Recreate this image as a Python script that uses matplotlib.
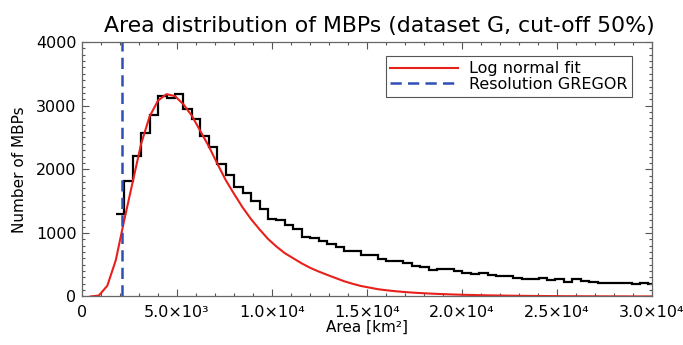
import numpy as np
import matplotlib
matplotlib.use('Agg')
import matplotlib.pyplot as plt
from matplotlib.ticker import MultipleLocator, FixedLocator

# histogram: bin edges [km^2] and counts
bin_width = 445
first_edge = 1780
hist_counts = [1297, 1816, 2209, 2566, 2849, 3148, 3126, 3179, 2948, 2786,
               2524, 2351, 2083, 1915, 1726, 1632, 1502, 1380, 1223, 1203,
               1119, 1066, 940, 925, 868, 825, 774, 720, 720, 652,
               652, 594, 563, 563, 522, 484, 469, 417, 432, 432,
               401, 365, 349, 365, 333, 322, 322, 296, 275, 275,
               296, 259, 275, 223, 275, 248, 233, 208, 217, 217,
               208, 192, 217, 201]

# log normal fit, sampled every bin width starting at 445 km^2
fit_values = [0, 15, 170, 570, 1200, 1800, 2400, 2830, 3080, 3180,
              3150, 3020, 2840, 2600, 2360, 2090, 1830, 1610, 1400, 1215,
              1055, 905, 785, 680, 600, 520, 450, 392, 340, 290,
              240, 200, 165, 140, 115, 98, 84, 72, 62, 54,
              47, 41, 36, 31, 27, 24, 21, 18, 16, 14,
              12, 10, 9, 8, 7, 6, 5, 4, 4, 3,
              3, 2, 2, 2, 1, 1, 1, 1]

resolution_gregor = 2100

xticks = [0, 5000, 10000, 15000, 20000, 25000, 30000]
xtick_labels = ['0', '5.0×10³', '1.0×10⁴', '1.5×10⁴', '2.0×10⁴', '2.5×10⁴', '3.0×10⁴']
yticks = [0, 1000, 2000, 3000, 4000]

edges = first_edge + bin_width * np.arange(len(hist_counts) + 1)
fit_x = bin_width * np.arange(1, len(fit_values) + 1)

fig = plt.figure(figsize=(6.83, 3.45), dpi=100)
ax = fig.add_axes([0.120, 0.1406, 0.8346, 0.7377])

ax.stairs(hist_counts, edges, baseline=None, color='black', linewidth=1.6)
ax.plot(fit_x, fit_values, color='#e8201c', linewidth=1.5, label='Log normal fit')
ax.axvline(resolution_gregor, color='#2e4fb5', linewidth=1.8, linestyle=(0, (4.5, 2.5)),
           label='Resolution GREGOR')

ax.set_xlim(0, 30000)
ax.set_ylim(0, 4000)

ax.xaxis.set_major_locator(FixedLocator(xticks))
ax.set_xticklabels(xtick_labels)
ax.xaxis.set_minor_locator(MultipleLocator(1000))
ax.yaxis.set_major_locator(FixedLocator(yticks))
ax.yaxis.set_minor_locator(MultipleLocator(100))

ax.tick_params(which='both', direction='in', top=True, right=True, colors='#555555',
               labelcolor='black', labelsize=11.5, width=0.8)
ax.tick_params(which='major', length=5, pad=6)
ax.tick_params(axis='y', which='major', pad=4)
ax.tick_params(which='minor', length=2.5)
for sp in ax.spines.values():
    sp.set_color('#666666')
    sp.set_linewidth(0.9)

ax.set_title('Area distribution of MBPs (dataset G, cut-off 50%)', fontsize=15.8, pad=7, x=0.521)
ax.set_xlabel('Area [km²]', fontsize=11, labelpad=0)
ax.set_ylabel('Number of MBPs', fontsize=11, labelpad=6)

leg = ax.legend(loc='upper right', bbox_to_anchor=(0.965, 0.943), borderaxespad=0,
                fontsize=11.5, handlelength=4.2, handletextpad=0.7, borderpad=0.3,
                labelspacing=0.05, fancybox=False, framealpha=1)
leg.get_frame().set_edgecolor('#555555')
leg.get_frame().set_linewidth(0.8)

fig.savefig('out.png', dpi=100)
